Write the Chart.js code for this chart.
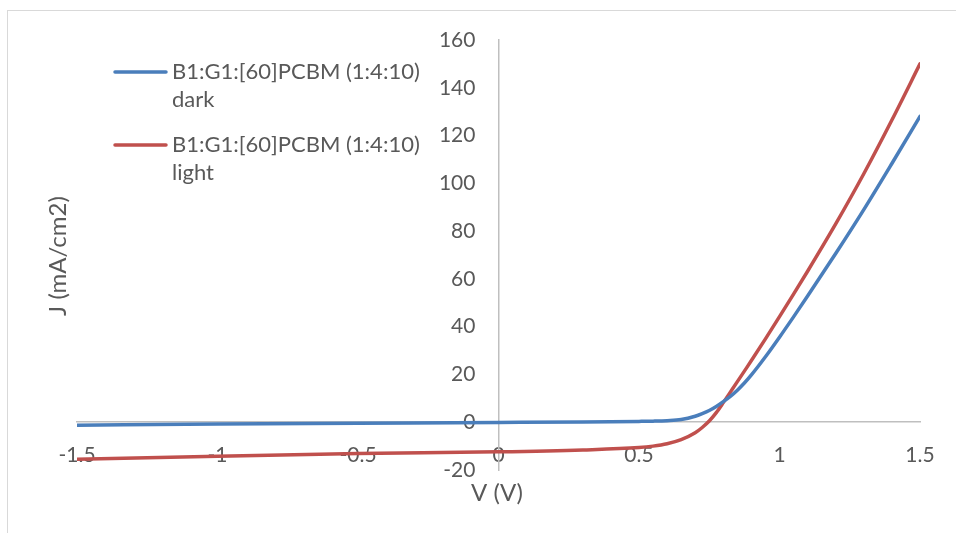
<!DOCTYPE html>
<html>
<head>
<meta charset="utf-8">
<title>J-V curve</title>
<script src="https://cdn.jsdelivr.net/npm/chart.js@4.4.1/dist/chart.umd.min.js"></script>
<style>
	html, body { margin: 0; padding: 0; background: #fff; }
	#wrap { position: relative; width: 956px; height: 533px; }
</style>
</head>
<body>
<div id="wrap"><canvas id="chart" width="956" height="533"></canvas></div>
<script>
// Voltage (V) sampled along both curves, denser around the knee.
var voltage = [-1.5, -1.0, -0.5, 0, 0.3, 0.5, 0.55, 0.6, 0.65, 0.7, 0.725, 0.75, 0.775, 0.8, 0.825, 0.85, 0.875, 0.9, 0.95, 1.0, 1.05, 1.1, 1.2, 1.3, 1.4, 1.5];

// Current density J (mA/cm2).
var darkJ = [-1.3, -0.7, -0.4, -0.1, 0.1, 0.35, 0.45, 0.65, 1.1, 2.5, 3.6, 4.9, 6.6, 8.6, 10.8, 13.4, 16.4, 19.8, 27.4, 35.6, 44.1, 52.8, 70.6, 89, 108.3, 128];
var lightJ = [-15.5, -14.2, -13.1, -12.4, -11.6, -10.6, -10.0, -9.0, -7.3, -4.4, -2.2, 0.5, 4.0, 8.2, 12.6, 17, 21.4, 25.8, 34.9, 44.2, 53.6, 63.2, 83, 104, 126.5, 150];

var seriesNames = ['B1:G1:[60]PCBM (1:4:10) dark', 'B1:G1:[60]PCBM (1:4:10) light'];
var seriesColors = ['#4a7ebb', '#c0504d'];

var xTitle = 'V (V)';
var yTitle = 'J (mA/cm2)';

var FONT = 'Lato, "Open Sans", sans-serif';
var TEXT_COLOR = '#595959';
var AXIS_COLOR = '#bfbfbf';

function toPoints(ys) {
	return voltage.map(function(v, i) { return {x: v, y: ys[i]}; });
}

// Excel style labels: 1 not 1.0
function plainNumber(value) {
	return String(Number(value.toFixed(2)));
}

/**
 * Frame, axis titles and wrapped legend (Excel style).
 */
var excelDecor = {
	id: 'excelDecor',
	beforeDraw: function(chart) {
		var ctx = chart.ctx;
		ctx.save();
		ctx.fillStyle = '#fff';
		ctx.fillRect(0, 0, chart.width, chart.height);
		ctx.strokeStyle = '#d9d9d9';
		ctx.lineWidth = 1;
		ctx.strokeRect(7.5, 10.5, 1000, 1000);
		ctx.restore();
	},
	afterDraw: function(chart) {
		var ctx = chart.ctx;
		ctx.save();
		ctx.fillStyle = TEXT_COLOR;
		ctx.font = '24px ' + FONT;
		ctx.textAlign = 'center';
		ctx.textBaseline = 'middle';

		// Axis titles.
		ctx.fillText(xTitle, 497, 493);
		ctx.save();
		ctx.translate(58, 256);
		ctx.rotate(-Math.PI / 2);
		ctx.fillText(yTitle, 0, 0);
		ctx.restore();

		// Legend, wrapped like the original.
		ctx.font = '22px ' + FONT;
		ctx.textAlign = 'left';
		var y = 72;
		chart.data.datasets.forEach(function(ds) {
			ctx.strokeStyle = ds.borderColor;
			ctx.lineWidth = 3.5;
			ctx.lineCap = 'round';
			ctx.beginPath();
			ctx.moveTo(115, y);
			ctx.lineTo(166, y);
			ctx.stroke();

			var words = ds.label.split(' ');
			var lines = [];
			var line = '';
			words.forEach(function(w) {
				var test = line ? line + ' ' + w : w;
				if (line && ctx.measureText(test).width > 260) {
					lines.push(line);
					line = w;
				} else {
					line = test;
				}
			});
			lines.push(line);
			lines.forEach(function(l, i) {
				ctx.fillText(l, 172, y + i * 28);
			});
			y += lines.length * 28 + 17;
		});
		ctx.restore();
	}
};

var tickFont = {family: FONT, size: 21};

var chart = new Chart(document.getElementById('chart').getContext('2d'), {
	type: 'line',
	data: {
		datasets: [0, 1].map(function(i) {
			return {
				label: seriesNames[i],
				data: toPoints(i === 0 ? darkJ : lightJ),
				borderColor: seriesColors[i],
				backgroundColor: seriesColors[i],
				borderWidth: 3.5,
				borderCapStyle: 'round',
				pointRadius: 0,
				cubicInterpolationMode: 'monotone',
				fill: false
			};
		})
	},
	options: {
		responsive: false,
		animation: false,
		layout: {
			padding: {left: 77, right: 36, top: 40, bottom: 63}
		},
		plugins: {
			legend: {display: false},
			tooltip: {enabled: false}
		},
		scales: {
			x: {
				type: 'linear',
				position: {y: 0},
				min: -1.5,
				max: 1.5,
				ticks: {
					stepSize: 0.5,
					padding: 20,
					color: TEXT_COLOR,
					font: tickFont,
					callback: plainNumber
				},
				grid: {display: false, drawTicks: false},
				border: {display: true, color: AXIS_COLOR, width: 1.5}
			},
			// tick labels sit a little left of the vertical axis line
			y: {
				type: 'linear',
				position: {x: -0.082},
				min: -20,
				max: 160,
				ticks: {
					stepSize: 20,
					color: TEXT_COLOR,
					font: tickFont,
					callback: plainNumber
				},
				grid: {display: false, drawTicks: false},
				border: {display: false}
			},
			// the vertical axis line itself, at V = 0
			yLine: {
				type: 'linear',
				position: {x: 0},
				min: -20,
				max: 160,
				ticks: {display: false},
				grid: {display: false, drawTicks: false},
				border: {display: true, color: AXIS_COLOR, width: 1.5}
			}
		}
	},
	plugins: [excelDecor]
});
</script>
</body>
</html>
